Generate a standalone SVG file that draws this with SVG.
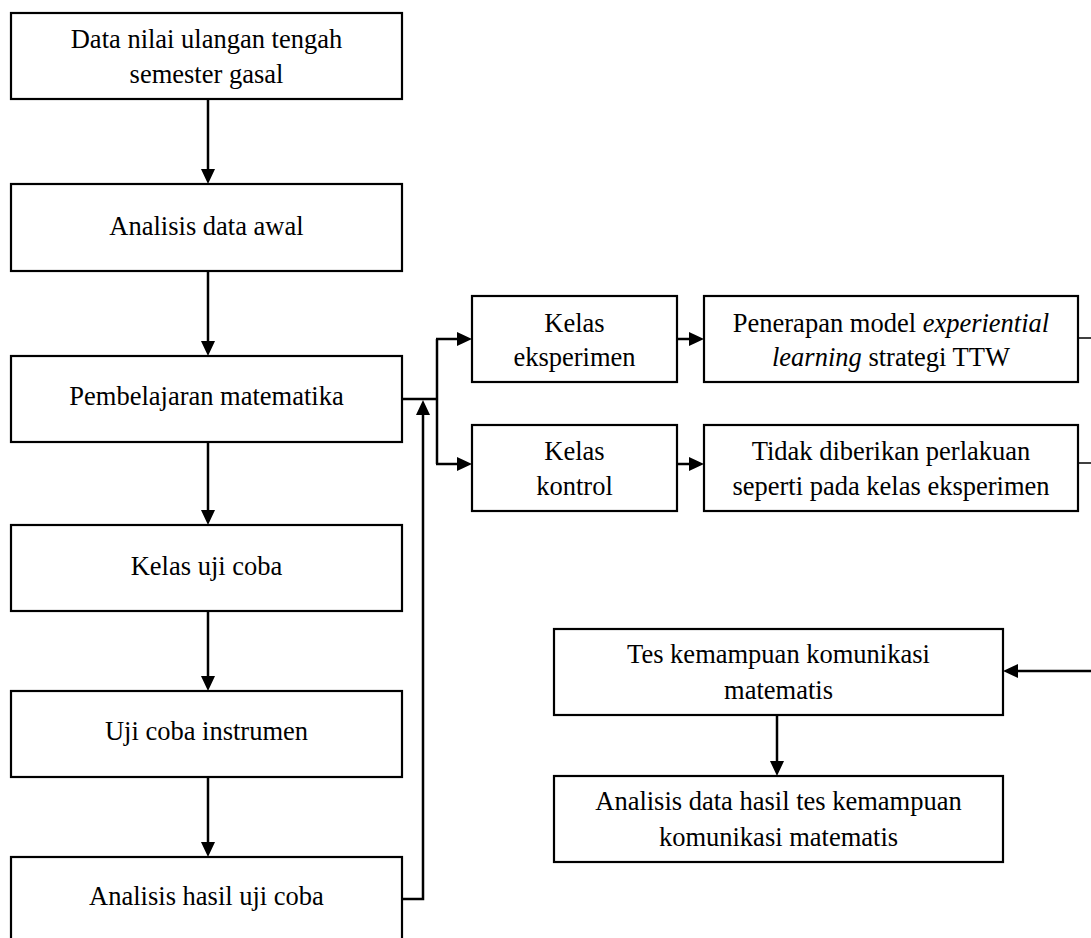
<svg xmlns="http://www.w3.org/2000/svg" width="1091" height="938" viewBox="0 0 1091 938">
<style>
.box{fill:#fff;stroke:#000;stroke-width:2.2}
.t{font-family:"Liberation Serif","Times New Roman",serif;font-size:26.5px;fill:#000;text-anchor:middle}
.c{fill:none;stroke:#000;stroke-width:2.5}
.thin{fill:none;stroke:#000;stroke-width:1.5}
</style>
<defs>
<marker id="ah" viewBox="0 0 15 14" refX="7" refY="7" markerWidth="15" markerHeight="14" markerUnits="userSpaceOnUse" orient="auto">
<path d="M0,0 L15,7 L0,14 z" fill="#000"/>
</marker>
</defs>
<rect width="1091" height="938" fill="#fff"/>
<g id="connectors">
<path class="c" d="M208,99 V176" marker-end="url(#ah)"/>
<path class="c" d="M208,271 V348" marker-end="url(#ah)"/>
<path class="c" d="M208,442 V517" marker-end="url(#ah)"/>
<path class="c" d="M208,611 V683" marker-end="url(#ah)"/>
<path class="c" d="M208,777 V849" marker-end="url(#ah)"/>
<path class="c" d="M402,399 H437"/>
<path class="c" d="M437,339 V464"/>
<path class="c" d="M436,339 H464" marker-end="url(#ah)"/>
<path class="c" d="M436,464 H464" marker-end="url(#ah)"/>
<path class="c" d="M402,899 H423 V408" marker-end="url(#ah)"/>
<path class="c" d="M677,339 H696" marker-end="url(#ah)"/>
<path class="c" d="M677,464 H696" marker-end="url(#ah)"/>
<path class="thin" d="M1078,338 H1091"/>
<path class="thin" d="M1078,463 H1091"/>
<path class="c" d="M1091,671 H1011" marker-end="url(#ah)"/>
<path class="c" d="M777,715 V768" marker-end="url(#ah)"/>
</g>
<g id="n1"><rect class="box" x="11" y="13" width="391" height="86"/><text class="t" x="206.5" y="48">Data nilai ulangan tengah</text><text class="t" x="206.5" y="83">semester gasal</text></g>
<g id="n2"><rect class="box" x="11" y="184" width="391" height="87"/><text class="t" x="206.5" y="235">Analisis data awal</text></g>
<g id="n3"><rect class="box" x="11" y="356" width="391" height="86"/><text class="t" x="206.5" y="405">Pembelajaran matematika</text></g>
<g id="n4"><rect class="box" x="11" y="525" width="391" height="86"/><text class="t" x="206.5" y="575">Kelas uji coba</text></g>
<g id="n5"><rect class="box" x="11" y="691" width="391" height="86"/><text class="t" x="206.5" y="740">Uji coba instrumen</text></g>
<g id="n6"><rect class="box" x="11" y="857" width="391" height="86"/><text class="t" x="206.5" y="905">Analisis hasil uji coba</text></g>
<g id="n7"><rect class="box" x="472" y="296" width="205" height="86"/><text class="t" x="574.5" y="332">Kelas</text><text class="t" x="574.5" y="366">eksperimen</text></g>
<g id="n8"><rect class="box" x="472" y="425" width="205" height="86"/><text class="t" x="574.5" y="460">Kelas</text><text class="t" x="574.5" y="495">kontrol</text></g>
<g id="n9"><rect class="box" x="704" y="296" width="374" height="86"/><text class="t" x="891" y="332">Penerapan model <tspan font-style="italic">experiential</tspan></text><text class="t" x="891" y="366"><tspan font-style="italic">learning</tspan> strategi TTW</text></g>
<g id="n10"><rect class="box" x="704" y="425" width="374" height="86"/><text class="t" x="891" y="460">Tidak diberikan perlakuan</text><text class="t" x="891" y="495">seperti pada kelas eksperimen</text></g>
<g id="n11"><rect class="box" x="554" y="629" width="449" height="86"/><text class="t" x="778.5" y="663">Tes kemampuan komunikasi</text><text class="t" x="778.5" y="699">matematis</text></g>
<g id="n12"><rect class="box" x="554" y="776" width="449" height="86"/><text class="t" x="778.5" y="810">Analisis data hasil tes kemampuan</text><text class="t" x="778.5" y="846">komunikasi matematis</text></g>
</svg>
